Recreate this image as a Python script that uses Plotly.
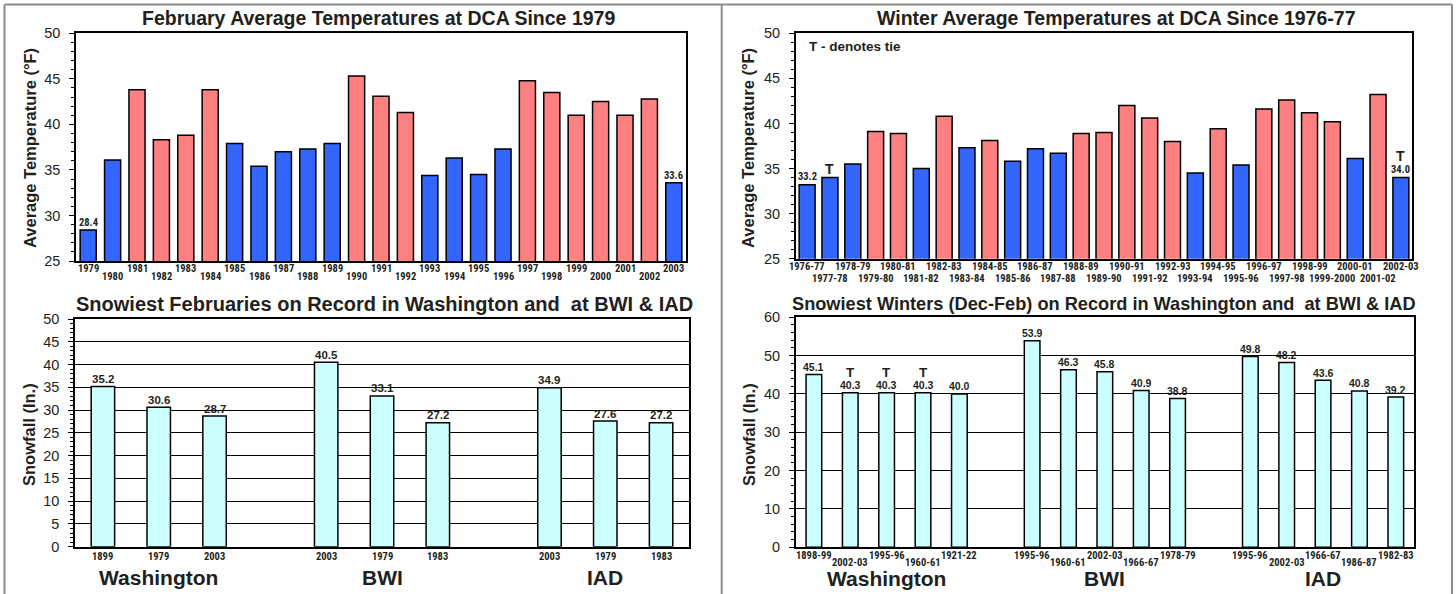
import plotly.graph_objects as go

# ---------------- data ----------------
feb_years = ["1979", "1980", "1981", "1982", "1983", "1984", "1985", "1986", "1987",
             "1988", "1989", "1990", "1991", "1992", "1993", "1994", "1995", "1996",
             "1997", "1998", "1999", "2000", "2001", "2002", "2003"]
feb_avg = [28.4, 36.1, 43.8, 38.3, 38.8, 43.8, 37.9, 35.4, 37.0, 37.3, 37.9, 45.3, 43.1,
           41.3, 34.4, 36.3, 34.5, 37.3, 44.8, 43.5, 41.0, 42.5, 41.0, 42.8, 33.6]
feb_above = [0, 0, 1, 1, 1, 1, 0, 0, 0, 0, 0, 1, 1, 1, 0, 0, 0, 0, 1, 1, 1, 1, 1, 1, 0]
feb_labels = ["28.4"] + [""] * 23 + ["33.6"]

winter_seasons = ["1976-77", "1977-78", "1978-79", "1979-80", "1980-81", "1981-82", "1982-83",
                  "1983-84", "1984-85", "1985-86", "1986-87", "1987-88", "1988-89", "1989-90",
                  "1990-91", "1991-92", "1992-93", "1993-94", "1994-95", "1995-96", "1996-97",
                  "1997-98", "1998-99", "1999-2000", "2000-01", "2001-02", "2002-03"]
winter_avg = [33.2, 34.0, 35.5, 39.1, 38.9, 35.0, 40.8, 37.3, 38.1, 35.8, 37.2, 36.7, 38.9, 39.0,
              42.0, 40.6, 38.0, 34.5, 39.4, 35.4, 41.6, 42.6, 41.2, 40.2, 36.1, 43.2, 34.0]
winter_above = [0, 0, 0, 1, 1, 0, 1, 0, 1, 0, 0, 0, 1, 1, 1, 1, 1, 0, 1, 0, 1, 1, 1, 1, 0, 1, 0]
winter_labels = ["33.2"] + [""] * 25 + ["34.0"]
winter_tie = [0, 1] + [0] * 24 + [1]

snow_groups = ["Washington", "BWI", "IAD"]
feb_snow_years = [["1899", "1979", "2003"], ["2003", "1979", "1983"], ["2003", "1979", "1983"]]
feb_snow = [[35.2, 30.6, 28.7], [40.5, 33.1, 27.2], [34.9, 27.6, 27.2]]

win_snow_seasons = [["1898-99", "2002-03", "1995-96", "1960-61", "1921-22"],
                    ["1995-96", "1960-61", "2002-03", "1966-67", "1978-79"],
                    ["1995-96", "2002-03", "1966-67", "1986-87", "1982-83"]]
win_snow = [[45.1, 40.3, 40.3, 40.3, 40.0],
            [53.9, 46.3, 45.8, 40.9, 38.8],
            [49.8, 48.2, 43.6, 40.8, 39.2]]
win_snow_tie = [[0, 1, 1, 1, 0], [0, 0, 0, 0, 0], [0, 0, 0, 0, 0]]

titles = ["February Average Temperatures at DCA Since 1979",
          "Winter Average Temperatures at DCA Since 1976-77",
          "Snowiest Februaries on Record in Washington and  at BWI & IAD",
          "Snowiest Winters (Dec-Feb) on Record in Washington and  at BWI & IAD"]

# ---------------- style ----------------
W, H = 1456, 594
BLUE, RED, CYAN = "#3366FF", "#FF8080", "#CCFFFF"
SANS = "Liberation Sans, Arial, sans-serif"
NARROW = "Liberation Sans Narrow, Arial Narrow, Roboto Condensed, DejaVu Sans Condensed, sans-serif"
TXT = "#231f20"


def px(x):
    return x / W


def py(y):
    return 1 - y / H


fig = go.Figure()
ann = []

# panel geometry (pixels): left, right, top, bottom
P = {
    1: (76, 686, 33.3, 261),
    2: (795.7, 1412.3, 33.3, 258.7),
    3: (75, 689, 319, 546.7),
    4: (795.7, 1414, 317.3, 547.3),
}


def axis_names(i):
    return ("x" if i == 1 else f"x{i}"), ("y" if i == 1 else f"y{i}")


TICKF = dict(family=NARROW, size=10.5, color=TXT, weight="bold")

# ---- panel 1: February temps ----
fig.add_trace(go.Bar(x=feb_years, y=feb_avg, width=0.66,
                     marker=dict(color=[RED if a else BLUE for a in feb_above],
                                 line=dict(color="black", width=1.5)),
                     xaxis="x", yaxis="y", showlegend=False))
for i, (c, lab) in enumerate(zip(feb_years, feb_labels)):
    ann.append(dict(x=i, y=0, xref="x", yref="y domain", text=c, showarrow=False,
                    yanchor="middle", yshift=-(7 if i % 2 == 0 else 15), font=TICKF))
    if lab:
        ann.append(dict(x=i, y=feb_avg[i], xref="x", yref="y", text=lab, showarrow=False,
                        yanchor="middle", yshift=7.5, font=TICKF))

# ---- panel 2: Winter temps ----
fig.add_trace(go.Bar(x=winter_seasons, y=winter_avg, width=0.7,
                     marker=dict(color=[RED if a else BLUE for a in winter_above],
                                 line=dict(color="black", width=1.5)),
                     xaxis="x2", yaxis="y2", showlegend=False))
for i, (c, lab, t) in enumerate(zip(winter_seasons, winter_labels, winter_tie)):
    ann.append(dict(x=i, y=0, xref="x2", yref="y2 domain", text=c, showarrow=False,
                    yanchor="middle", yshift=-(8 if i % 2 == 0 else 20), font=TICKF))
    if lab:
        ann.append(dict(x=i, y=winter_avg[i], xref="x2", yref="y2", text=lab, showarrow=False,
                        yanchor="middle", yshift=8, font=TICKF))
    if t:
        ann.append(dict(x=i, y=winter_avg[i], xref="x2", yref="y2", text="T", showarrow=False,
                        yanchor="middle", yshift=22 if lab else 9,
                        font=dict(family=SANS, size=14, color=TXT, weight="bold")))
ann.append(dict(x=0.018, y=0.94, xref="x2 domain", yref="y2 domain", text="T - denotes tie",
                showarrow=False, xanchor="left", yanchor="middle",
                font=dict(family=SANS, size=13.5, color=TXT, weight="bold")))


# ---- panels 3 & 4: snowfall ----
def snow_panel(idx, groups, cats, vals, ties, bw, lab_font, stagger, yshifts):
    xa, ya = axis_names(idx)
    xs, ys, names = [], [], []
    n = len(cats[0])
    for g in range(len(groups)):
        for k in range(n):
            xs.append(g * (n + 1) + k)
            ys.append(vals[g][k])
            names.append(cats[g][k])
    fig.add_trace(go.Bar(x=xs, y=ys, width=bw,
                         marker=dict(color=CYAN, line=dict(color="black", width=1.5)),
                         xaxis=xa, yaxis=ya, showlegend=False))
    j = 0
    for g in range(len(groups)):
        for k in range(n):
            low = stagger and (k % 2 == 1)
            ann.append(dict(x=xs[j], y=0, xref=xa, yref=f"{ya} domain", text=names[j],
                            showarrow=False, yanchor="middle",
                            yshift=-(yshifts[1] if low else yshifts[0]), font=TICKF))
            ann.append(dict(x=xs[j], y=ys[j], xref=xa, yref=ya, text=f"{ys[j]:.1f}",
                            showarrow=False, yanchor="middle", yshift=7.5, font=lab_font))
            if ties[g][k]:
                ann.append(dict(x=xs[j], y=ys[j], xref=xa, yref=ya, text="T",
                                showarrow=False, yanchor="middle", yshift=20.5,
                                font=dict(family=SANS, size=13.5, color=TXT, weight="bold")))
            j += 1
        ann.append(dict(x=g * (n + 1) + (n - 1) / 2, y=0, xref=xa, yref=f"{ya} domain",
                        text=groups[g], showarrow=False, yanchor="middle", yshift=-31,
                        font=dict(family=SANS, size=21, color=TXT, weight="bold")))
    return (-0.5, len(groups) * (n + 1) - 1 - 0.5)


r3 = snow_panel(3, snow_groups, feb_snow_years, feb_snow,
                [[0] * 3 for _ in range(3)], 0.42,
                dict(family=SANS, size=11.5, color=TXT, weight="bold"), False, (10, 10))
r4 = snow_panel(4, snow_groups, win_snow_seasons, win_snow, win_snow_tie, 0.43,
                dict(family=SANS, size=10.5, color=TXT, weight="bold"), True, (8.5, 15))

# ---- titles ----
title_pos = [(378, 18, 19.5), (1116, 18, 19.5), (384, 304, 20), (1104, 304, 18.2)]
for t, (tx, ty, fs) in zip(titles, title_pos):
    ann.append(dict(x=px(tx), y=py(ty), xref="paper", yref="paper", text=t, showarrow=False,
                    xanchor="center", yanchor="middle",
                    font=dict(family=SANS, size=fs, color=TXT, weight="bold")))

ytitles = [("Average Temperature (°F)", 30, 148), ("Average Temperature (°F)", 748, 148),
           ("Snowfall (In.)", 29, 434), ("Snowfall (In.)", 749, 434)]
for t, tx, ty in ytitles:
    ann.append(dict(x=px(tx), y=py(ty), xref="paper", yref="paper", text=t, showarrow=False,
                    textangle=-90, xanchor="center", yanchor="middle",
                    font=dict(family=SANS, size=16.5, color=TXT, weight="bold")))

# ---- axes ----
layout_axes = {}
yranges = {1: (25, 50), 2: (25, 50), 3: (0, 50), 4: (0, 60)}
ydticks = {1: 5, 2: 5, 3: 5, 4: 10}
yminor = {1: 1, 2: 1, 3: 1, 4: 2}
xranges = {1: (-0.5, len(feb_years) - 0.5), 2: (-0.5, len(winter_seasons) - 0.5), 3: r3, 4: r4}
for i in range(1, 5):
    l, r, t, b = P[i]
    xa, ya = axis_names(i)
    xkey = "xaxis" if i == 1 else f"xaxis{i}"
    ykey = "yaxis" if i == 1 else f"yaxis{i}"
    xd = dict(domain=[px(l), px(r)], anchor=ya, showline=True, linecolor="black", linewidth=1.5,
              mirror=True, showticklabels=False, ticks="", showgrid=False, zeroline=False,
              fixedrange=True, automargin=False, range=list(xranges[i]))
    if i <= 2:
        xd["type"] = "category"
    yd = dict(domain=[py(b), py(t)], anchor=xa, range=list(yranges[i]), dtick=ydticks[i],
              tick0=0, showline=True, linecolor="black", linewidth=1.5, mirror=True,
              ticks="outside", ticklen=5, tickcolor="black", tickwidth=1,
              tickfont=dict(family=SANS, size=14.5, color=TXT), ticklabelstandoff=6,
              minor=dict(ticks="outside", ticklen=3, dtick=yminor[i], tickcolor="black",
                         showgrid=False),
              showgrid=(i >= 3), gridcolor="black", gridwidth=1, zeroline=False,
              fixedrange=True, automargin=False)
    layout_axes[xkey] = xd
    layout_axes[ykey] = yd

# ---- outer frame ----
shapes = []
FRAME = "#8c8c8c"
for x0, y0, x1, y1 in [(4.5, 4.5, 1452, 4.5), (4.5, 4.5, 4.5, 594), (721.7, 4.5, 721.7, 594),
                       (1452, 4.5, 1452, 594)]:
    shapes.append(dict(type="line", xref="paper", yref="paper", x0=px(x0), y0=py(y0),
                       x1=px(x1), y1=py(y1), line=dict(color=FRAME, width=2)))

fig.update_layout(width=W, height=H, margin=dict(l=0, r=0, t=0, b=0, autoexpand=False),
                  paper_bgcolor="white", plot_bgcolor="white", showlegend=False,
                  annotations=ann, shapes=shapes, **layout_axes)

fig.write_html("out.html", config={"displayModeBar": False},
               post_script="document.body.style.margin='0';")
